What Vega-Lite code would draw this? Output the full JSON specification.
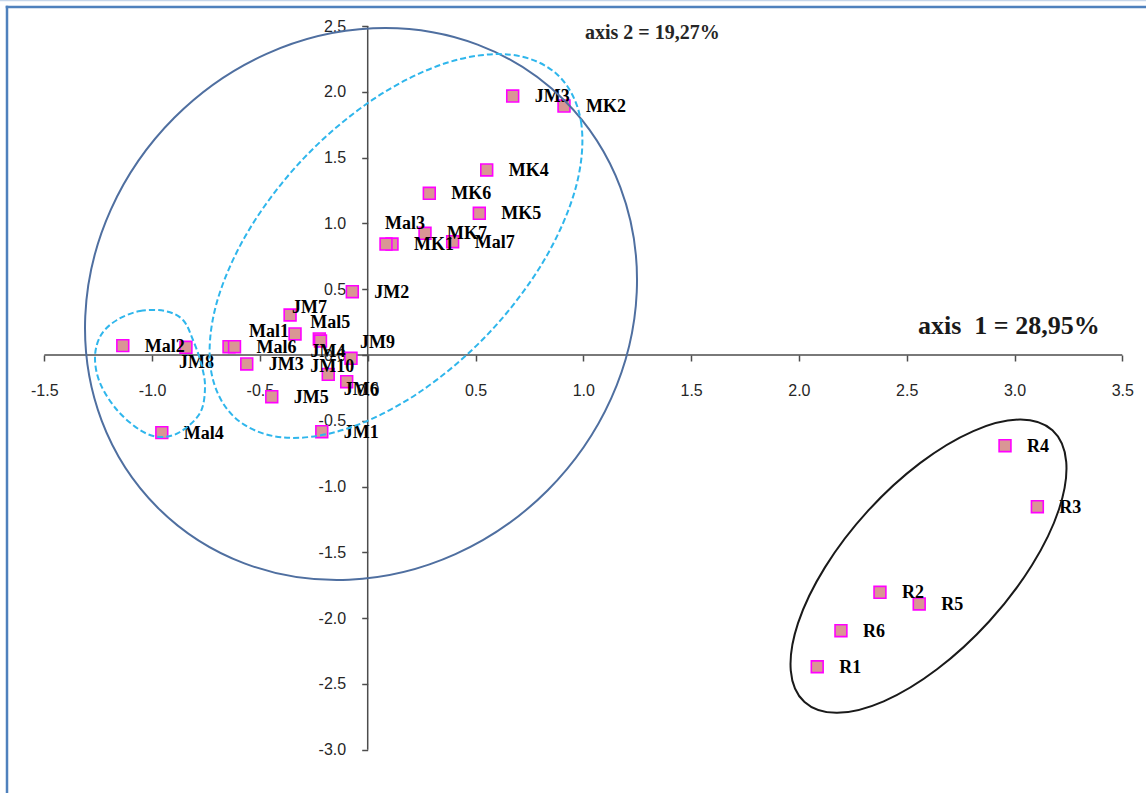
{
  "$schema": "https://vega.github.io/schema/vega-lite/v6.json",
  "width": 1146,
  "height": 793,
  "autosize": {"type": "none"},
  "padding": 0,
  "background": "white",
  "config": {"view": {"stroke": null}, "text": {"font": "Liberation Serif", "fontWeight": "bold", "fontSize": 18, "color": "black"}},
  "data": {"values": [
    {"kind": "pt", "label": "JM3", "x": 0.6725, "y": 1.968},
    {"kind": "pt", "label": "MK2", "x": 0.9105, "y": 1.892},
    {"kind": "pt", "label": "MK4", "x": 0.552, "y": 1.406},
    {"kind": "pt", "label": "MK6", "x": 0.2857, "y": 1.229},
    {"kind": "pt", "label": "MK5", "x": 0.5176, "y": 1.077},
    {"kind": "pt", "label": "MK7", "x": 0.2658, "y": 0.925},
    {"kind": "pt", "label": "Mal7", "x": 0.394, "y": 0.861},
    {"kind": "pt", "label": "MK1", "x": 0.1127, "y": 0.843},
    {"kind": "pt", "label": "Mal3", "x": 0.0849, "y": 0.843},
    {"kind": "pt", "label": "JM2", "x": -0.0714, "y": 0.481},
    {"kind": "pt", "label": "JM7", "x": -0.36, "y": 0.304},
    {"kind": "pt", "label": "Mal1", "x": -0.337, "y": 0.16},
    {"kind": "pt", "label": "Mal5", "x": -0.2245, "y": 0.122},
    {"kind": "pt", "label": "JM4", "x": -0.219, "y": 0.106},
    {"kind": "pt", "label": "", "x": -0.6433, "y": 0.063},
    {"kind": "pt", "label": "Mal6", "x": -0.6178, "y": 0.063},
    {"kind": "pt", "label": "JM3", "x": -0.561, "y": -0.068},
    {"kind": "pt", "label": "JM9", "x": -0.0775, "y": -0.025},
    {"kind": "pt", "label": "JM10", "x": -0.183, "y": -0.147},
    {"kind": "pt", "label": "JM6", "x": -0.0974, "y": -0.203},
    {"kind": "pt", "label": "JM5", "x": -0.445, "y": -0.317},
    {"kind": "pt", "label": "JM1", "x": -0.213, "y": -0.583},
    {"kind": "pt", "label": "Mal2", "x": -1.136, "y": 0.071},
    {"kind": "pt", "label": "JM8", "x": -0.843, "y": 0.0585},
    {"kind": "pt", "label": "Mal4", "x": -0.955, "y": -0.59},
    {"kind": "pt", "label": "R4", "x": 2.956, "y": -0.689},
    {"kind": "pt", "label": "R3", "x": 3.106, "y": -1.153},
    {"kind": "pt", "label": "R2", "x": 2.376, "y": -1.803},
    {"kind": "pt", "label": "R5", "x": 2.558, "y": -1.892},
    {"kind": "pt", "label": "R6", "x": 2.195, "y": -2.095},
    {"kind": "pt", "label": "R1", "x": 2.085, "y": -2.369},

    {"kind": "ring", "ring": "big", "i": 1, "x": 0.9127, "y": 1.9337},
    {"kind": "ring", "ring": "big", "i": 2, "x": 1.1719, "y": 1.2737},
    {"kind": "ring", "ring": "big", "i": 3, "x": 1.2479, "y": 0.4787},
    {"kind": "ring", "ring": "big", "i": 4, "x": 1.1293, "y": -0.33},
    {"kind": "ring", "ring": "big", "i": 5, "x": 0.8339, "y": -1.0296},
    {"kind": "ring", "ring": "big", "i": 6, "x": 0.4069, "y": -1.5135},
    {"kind": "ring", "ring": "big", "i": 7, "x": -0.0867, "y": -1.7078},
    {"kind": "ring", "ring": "big", "i": 8, "x": -0.572, "y": -1.5833},
    {"kind": "ring", "ring": "big", "i": 9, "x": -0.9748, "y": -1.1586},
    {"kind": "ring", "ring": "big", "i": 10, "x": -1.234, "y": -0.4986},
    {"kind": "ring", "ring": "big", "i": 11, "x": -1.31, "y": 0.2964},
    {"kind": "ring", "ring": "big", "i": 12, "x": -1.1914, "y": 1.1051},
    {"kind": "ring", "ring": "big", "i": 13, "x": -0.8961, "y": 1.8046},
    {"kind": "ring", "ring": "big", "i": 14, "x": -0.4691, "y": 2.2885},
    {"kind": "ring", "ring": "big", "i": 15, "x": 0.0246, "y": 2.4828},
    {"kind": "ring", "ring": "big", "i": 16, "x": 0.5098, "y": 2.3584},

    {"kind": "ring", "ring": "tilt", "i": 1, "x": 0.8826, "y": 2.1262},
    {"kind": "ring", "ring": "tilt", "i": 2, "x": 0.9893, "y": 1.7727},
    {"kind": "ring", "ring": "tilt", "i": 3, "x": 0.9655, "y": 1.2754},
    {"kind": "ring", "ring": "tilt", "i": 4, "x": 0.8146, "y": 0.71},
    {"kind": "ring", "ring": "tilt", "i": 5, "x": 0.5597, "y": 0.1626},
    {"kind": "ring", "ring": "tilt", "i": 6, "x": 0.2396, "y": -0.2834},
    {"kind": "ring", "ring": "tilt", "i": 7, "x": -0.097, "y": -0.5602},
    {"kind": "ring", "ring": "tilt", "i": 8, "x": -0.3989, "y": -0.6256},
    {"kind": "ring", "ring": "tilt", "i": 9, "x": -0.62, "y": -0.4697},
    {"kind": "ring", "ring": "tilt", "i": 10, "x": -0.7268, "y": -0.1162},
    {"kind": "ring", "ring": "tilt", "i": 11, "x": -0.703, "y": 0.3812},
    {"kind": "ring", "ring": "tilt", "i": 12, "x": -0.5521, "y": 0.9465},
    {"kind": "ring", "ring": "tilt", "i": 13, "x": -0.2972, "y": 1.4939},
    {"kind": "ring", "ring": "tilt", "i": 14, "x": 0.023, "y": 1.94},
    {"kind": "ring", "ring": "tilt", "i": 15, "x": 0.3596, "y": 2.2167},
    {"kind": "ring", "ring": "tilt", "i": 16, "x": 0.6614, "y": 2.2821},

    {"kind": "ring", "ring": "small", "i": 1, "x": -1.1628, "y": 0.266},
    {"kind": "ring", "ring": "small", "i": 2, "x": -1.0561, "y": 0.3343},
    {"kind": "ring", "ring": "small", "i": 3, "x": -0.9402, "y": 0.3343},
    {"kind": "ring", "ring": "small", "i": 4, "x": -0.8567, "y": 0.266},
    {"kind": "ring", "ring": "small", "i": 5, "x": -0.8103, "y": 0.114},
    {"kind": "ring", "ring": "small", "i": 6, "x": -0.7732, "y": -0.0608},
    {"kind": "ring", "ring": "small", "i": 7, "x": -0.7546, "y": -0.2432},
    {"kind": "ring", "ring": "small", "i": 8, "x": -0.7778, "y": -0.4407},
    {"kind": "ring", "ring": "small", "i": 9, "x": -0.8706, "y": -0.5851},
    {"kind": "ring", "ring": "small", "i": 10, "x": -0.9634, "y": -0.6231},
    {"kind": "ring", "ring": "small", "i": 11, "x": -1.0561, "y": -0.5699},
    {"kind": "ring", "ring": "small", "i": 12, "x": -1.1628, "y": -0.4179},
    {"kind": "ring", "ring": "small", "i": 13, "x": -1.2416, "y": -0.2128},
    {"kind": "ring", "ring": "small", "i": 14, "x": -1.2648, "y": -0.0152},
    {"kind": "ring", "ring": "small", "i": 15, "x": -1.237, "y": 0.152},

    {"kind": "ring", "ring": "r", "i": 1, "x": 3.1761, "y": -0.5726},
    {"kind": "ring", "ring": "r", "i": 2, "x": 3.2399, "y": -0.8119},
    {"kind": "ring", "ring": "r", "i": 3, "x": 3.2064, "y": -1.172},
    {"kind": "ring", "ring": "r", "i": 4, "x": 3.0807, "y": -1.5979},
    {"kind": "ring", "ring": "r", "i": 5, "x": 2.8821, "y": -2.0249},
    {"kind": "ring", "ring": "r", "i": 6, "x": 2.6406, "y": -2.388},
    {"kind": "ring", "ring": "r", "i": 7, "x": 2.3932, "y": -2.6318},
    {"kind": "ring", "ring": "r", "i": 8, "x": 2.1774, "y": -2.7194},
    {"kind": "ring", "ring": "r", "i": 9, "x": 2.0261, "y": -2.6372},
    {"kind": "ring", "ring": "r", "i": 10, "x": 1.9623, "y": -2.3978},
    {"kind": "ring", "ring": "r", "i": 11, "x": 1.9959, "y": -2.0378},
    {"kind": "ring", "ring": "r", "i": 12, "x": 2.1215, "y": -1.6119},
    {"kind": "ring", "ring": "r", "i": 13, "x": 2.3202, "y": -1.1848},
    {"kind": "ring", "ring": "r", "i": 14, "x": 2.5616, "y": -0.8217},
    {"kind": "ring", "ring": "r", "i": 15, "x": 2.809, "y": -0.5779},
    {"kind": "ring", "ring": "r", "i": 16, "x": 3.0249, "y": -0.4903}
  ]},
  "layer": [
    {
      "data": {"values": [{}]},
      "mark": {"type": "rule", "color": "#c6d6ea", "strokeWidth": 1.5},
      "encoding": {"x": {"datum": -1.7055, "type": "quantitative"}, "x2": {"datum": 3.6099}, "y": {"datum": 2.6938, "type": "quantitative"}}
    },
    {
      "data": {"values": [{}]},
      "mark": {"type": "rule", "color": "#4f81bd", "strokeWidth": 2.5},
      "encoding": {"x": {"datum": -1.673, "type": "quantitative"}, "y": {"datum": 2.654, "type": "quantitative"}, "y2": {"datum": -3.3283}}
    },
    {
      "data": {"values": [{}]},
      "mark": {"type": "rule", "color": "#4f81bd", "strokeWidth": 2.5},
      "encoding": {"x": {"datum": -1.679, "type": "quantitative"}, "x2": {"datum": 3.6099}, "y": {"datum": 2.6444, "type": "quantitative"}}
    },
    {
      "data": {"values": [{}]},
      "mark": {"type": "rule", "color": "#4d4d4d", "strokeWidth": 1.5},
      "encoding": {"x": {"datum": -1.5, "type": "quantitative"}, "x2": {"datum": 3.5}, "y": {"datum": 0, "type": "quantitative"}}
    },
    {
      "data": {"values": [{}]},
      "mark": {"type": "rule", "color": "#4d4d4d", "strokeWidth": 1.5},
      "encoding": {"x": {"datum": 0, "type": "quantitative"}, "y": {"datum": -3, "type": "quantitative"}, "y2": {"datum": 2.5}}
    },
    {
      "encoding": {
        "x": {
          "field": "x", "type": "quantitative",
          "scale": {"domain": [-1.7055, 3.6099], "nice": false, "zero": false},
          "axis": {
            "title": null, "values": [-1.5, -1, -0.5, 0, 0.5, 1, 1.5, 2, 2.5, 3, 3.5],
            "format": ".1f", "labelExpr": "replace(datum.label, '\u2212', '-')",
            "offset": -438, "domain": false, "grid": false,
            "tickSize": 6, "tickWidth": 1.5, "tickColor": "#4d4d4d",
            "labelFont": "Liberation Sans Narrow, Liberation Sans, sans-serif",
            "labelFontSize": 16, "labelColor": "#262626", "labelPadding": 21,
            "labelOverlap": false, "labelFlush": false, "labelBound": false
          }
        },
        "y": {
          "field": "y", "type": "quantitative",
          "scale": {"domain": [-3.3283, 2.6976], "nice": false, "zero": false},
          "axis": {
            "title": null, "values": [-3, -2.5, -2, -1.5, -1, -0.5, 0, 0.5, 1, 1.5, 2, 2.5],
            "format": ".1f", "labelExpr": "replace(datum.label, '\u2212', '-')",
            "offset": -367.7, "domain": false, "grid": false,
            "tickSize": 6, "tickWidth": 1.5, "tickColor": "#4d4d4d",
            "labelFont": "Liberation Sans Narrow, Liberation Sans, sans-serif",
            "labelFontSize": 16, "labelColor": "#262626", "labelPadding": 16,
            "labelOverlap": false, "labelFlush": false, "labelBound": false
          }
        }
      },
      "layer": [
        {
          "transform": [{"filter": "datum.kind == 'pt'"}],
          "mark": {"type": "point", "shape": "square", "filled": true, "size": 140, "fill": "#d99694", "stroke": "#ff00ff", "strokeWidth": 1.6, "opacity": 1}
        },
        {
          "transform": [{"filter": "datum.kind == 'pt' && indexof(['Mal3','JM7','Mal1','Mal5','JM4','JM8','JM9','JM10','JM6'], datum.label) < 0"}],
          "mark": {"type": "text", "align": "left", "baseline": "middle", "dx": 22, "dy": 1},
          "encoding": {"text": {"field": "label"}}
        },
        {
          "transform": [{"filter": "datum.label == 'Mal3'"}],
          "mark": {"type": "text", "align": "left", "baseline": "middle", "dx": -1, "dy": -20},
          "encoding": {"text": {"field": "label"}}
        },
        {
          "transform": [{"filter": "datum.label == 'JM7'"}],
          "mark": {"type": "text", "align": "left", "baseline": "middle", "dx": 2, "dy": -7},
          "encoding": {"text": {"field": "label"}}
        },
        {
          "transform": [{"filter": "datum.label == 'Mal1'"}],
          "mark": {"type": "text", "align": "right", "baseline": "middle", "dx": -6, "dy": -2},
          "encoding": {"text": {"field": "label"}}
        },
        {
          "transform": [{"filter": "datum.label == 'Mal5'"}],
          "mark": {"type": "text", "align": "left", "baseline": "middle", "dx": -9, "dy": -16},
          "encoding": {"text": {"field": "label"}}
        },
        {
          "transform": [{"filter": "datum.label == 'JM4'"}],
          "mark": {"type": "text", "align": "left", "baseline": "middle", "dx": -10, "dy": 11},
          "encoding": {"text": {"field": "label"}}
        },
        {
          "transform": [{"filter": "datum.label == 'JM8'"}],
          "mark": {"type": "text", "align": "left", "baseline": "middle", "dx": -7, "dy": 16},
          "encoding": {"text": {"field": "label"}}
        },
        {
          "transform": [{"filter": "datum.label == 'JM9'"}],
          "mark": {"type": "text", "align": "left", "baseline": "middle", "dx": 9, "dy": -15},
          "encoding": {"text": {"field": "label"}}
        },
        {
          "transform": [{"filter": "datum.label == 'JM10'"}],
          "mark": {"type": "text", "align": "left", "baseline": "middle", "dx": -18, "dy": -7},
          "encoding": {"text": {"field": "label"}}
        },
        {
          "transform": [{"filter": "datum.label == 'JM6'"}],
          "mark": {"type": "text", "align": "left", "baseline": "middle", "dx": -3, "dy": 8},
          "encoding": {"text": {"field": "label"}}
        },
        {
          "transform": [{"filter": "datum.ring == 'big'"}],
          "mark": {"type": "line", "interpolate": "cardinal-closed", "stroke": "#4f6fa0", "strokeWidth": 2},
          "encoding": {"order": {"field": "i", "type": "quantitative"}}
        },
        {
          "transform": [{"filter": "datum.ring == 'tilt'"}],
          "mark": {"type": "line", "interpolate": "cardinal-closed", "stroke": "#2fb6ec", "strokeWidth": 2, "strokeDash": [6, 3]},
          "encoding": {"order": {"field": "i", "type": "quantitative"}}
        },
        {
          "transform": [{"filter": "datum.ring == 'small'"}],
          "mark": {"type": "line", "interpolate": "cardinal-closed", "stroke": "#2fb6ec", "strokeWidth": 2, "strokeDash": [6, 3]},
          "encoding": {"order": {"field": "i", "type": "quantitative"}}
        },
        {
          "transform": [{"filter": "datum.ring == 'r'"}],
          "mark": {"type": "line", "interpolate": "cardinal-closed", "stroke": "#1a1a1a", "strokeWidth": 2},
          "encoding": {"order": {"field": "i", "type": "quantitative"}}
        }
      ]
    },
    {
      "data": {"values": [{}]},
      "mark": {"type": "text", "text": "axis 2 = 19,27%", "align": "left", "baseline": "middle", "fontSize": 20, "color": "#262626"},
      "encoding": {"x": {"datum": 1.0079, "type": "quantitative"}, "y": {"datum": 2.4468, "type": "quantitative"}}
    },
    {
      "data": {"values": [{}]},
      "mark": {"type": "text", "text": "axis\u00a0\u00a01 = 28,95%", "align": "left", "baseline": "middle", "fontSize": 26, "color": "#1a1a1a"},
      "encoding": {"x": {"datum": 2.5524, "type": "quantitative"}, "y": {"datum": 0.2204, "type": "quantitative"}}
    }
  ]
}
